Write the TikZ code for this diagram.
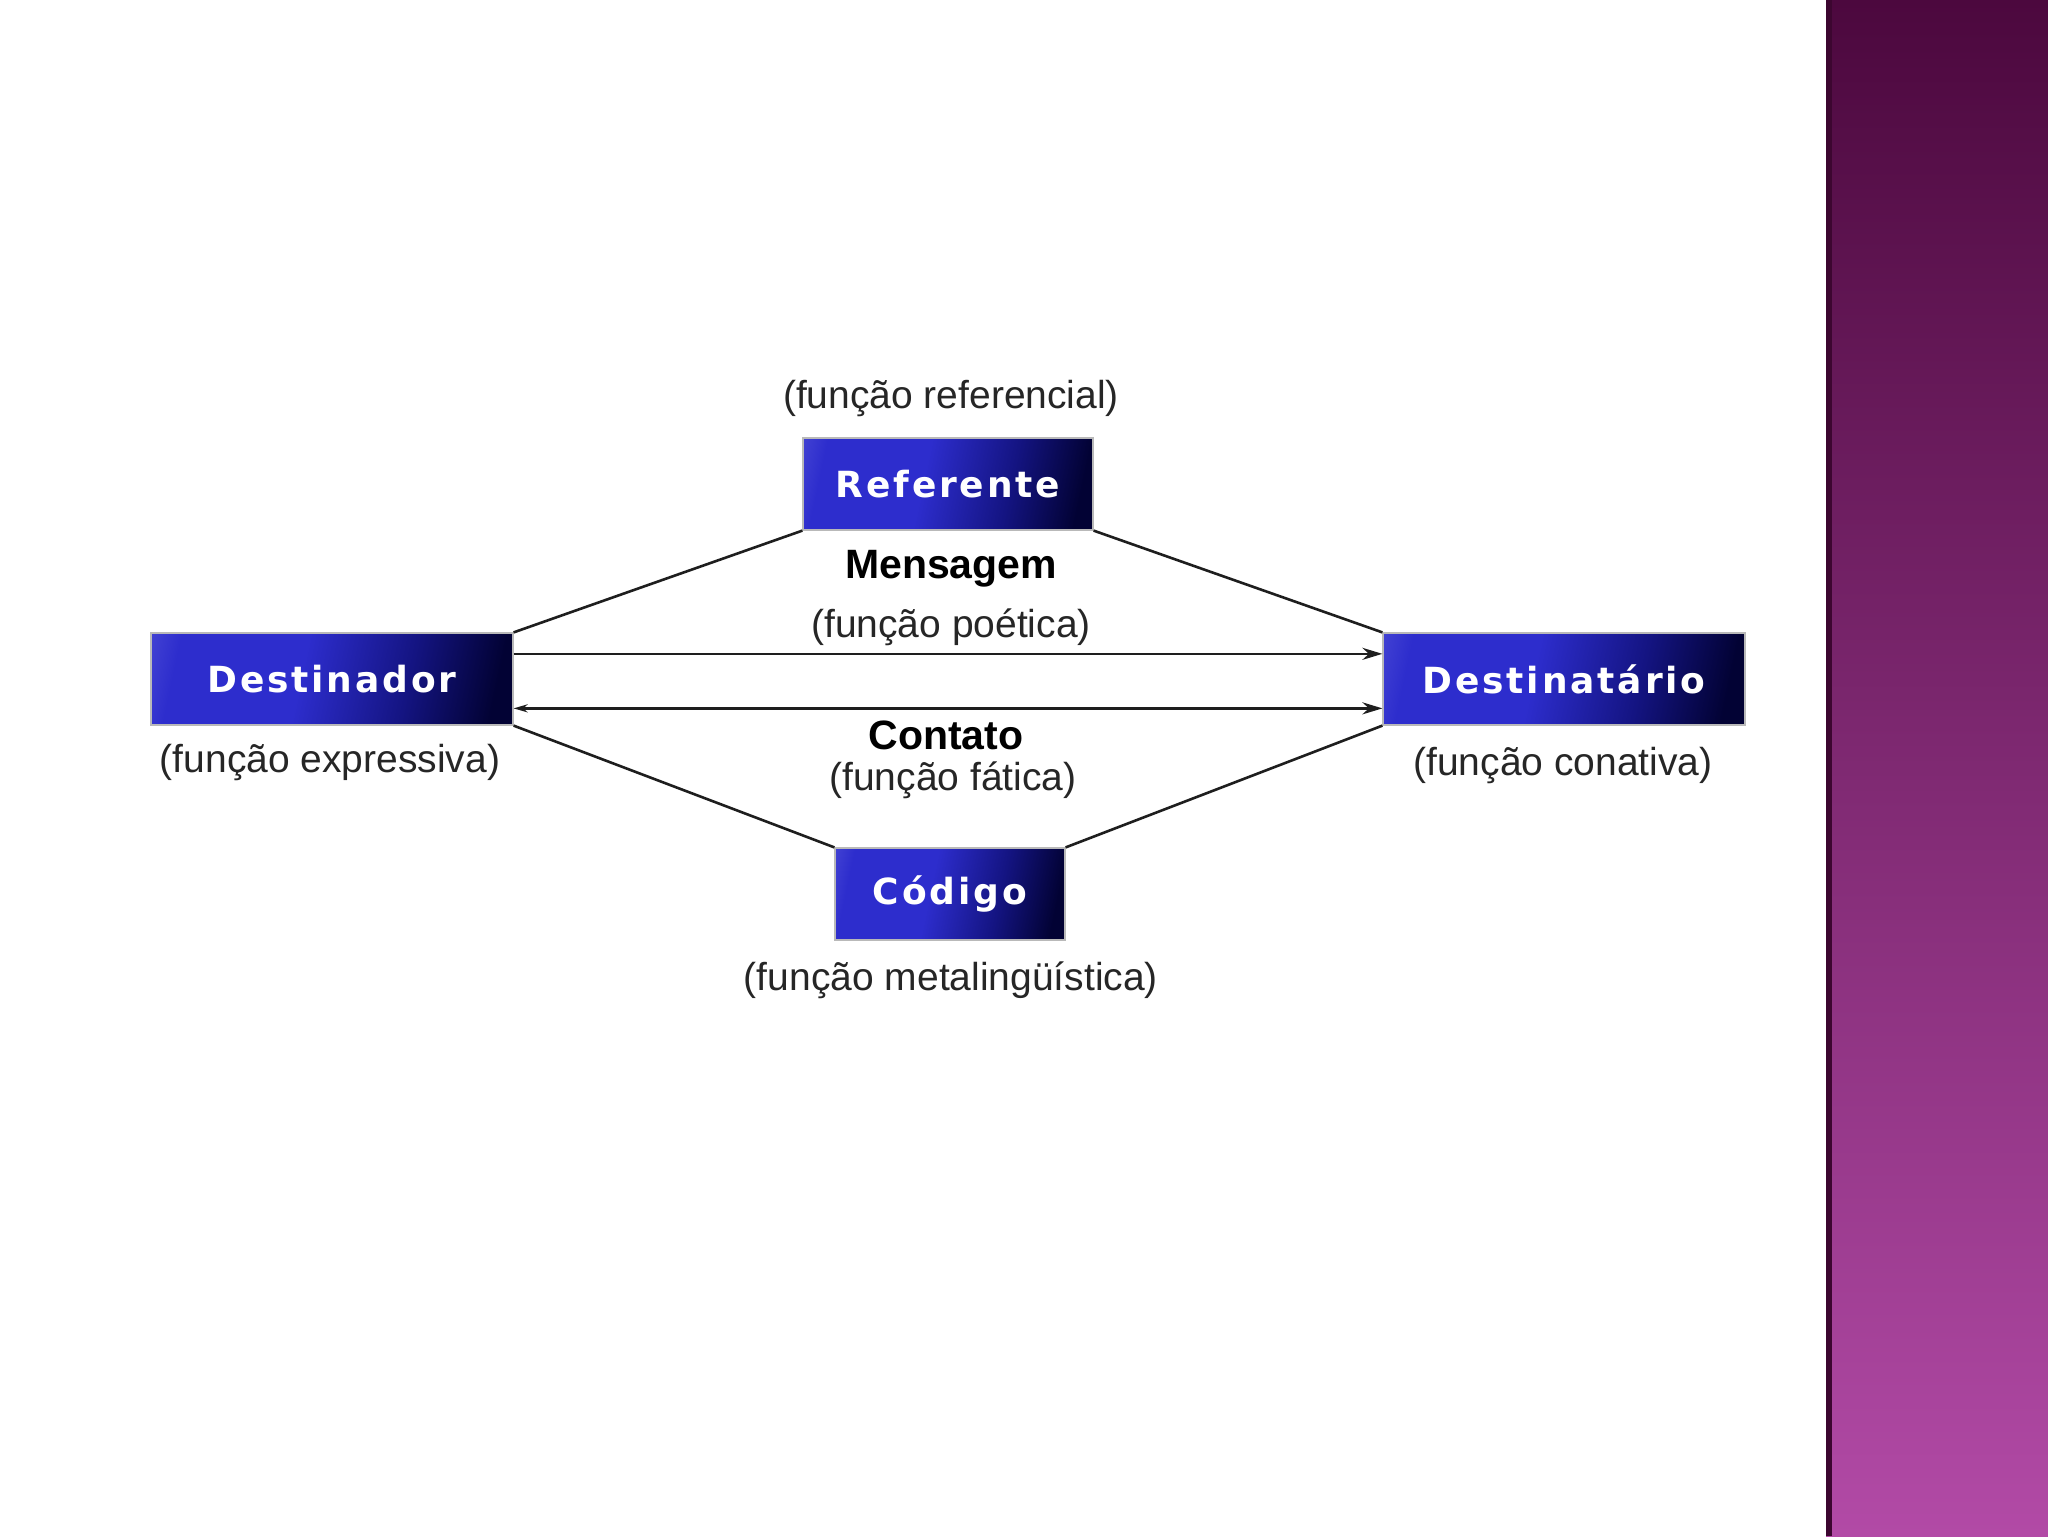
\documentclass[tikz,border=0pt]{standalone}
\usepackage{fontspec}
\setmainfont{Liberation Sans}
\newfontfamily\boxfont[LetterSpace=8]{DejaVu Sans}
\usetikzlibrary{arrows.meta,calc}
\definecolor{boxlight}{RGB}{150,150,235}
\definecolor{boxblue}{RGB}{45,45,205}
\definecolor{boxmid}{RGB}{20,20,130}
\definecolor{boxnavy}{RGB}{2,2,52}
\definecolor{panTop}{RGB}{76,8,62}
\definecolor{panBot}{RGB}{178,74,166}
\definecolor{panEdge}{RGB}{60,6,48}
\definecolor{linecol}{RGB}{30,30,30}
\pgfdeclarehorizontalshading{boxsh}{100bp}{color(0bp)=(boxlight); color(25bp)=(boxblue); color(45bp)=(boxblue); color(62bp)=(boxmid); color(76bp)=(boxnavy); color(100bp)=(boxnavy)}
\tikzset{
  funcbox/.style={rectangle, inner sep=0pt, minimum height=46pt, shading=boxsh, shading angle=-12,
    draw=gray!55, line width=0.6pt, text=white, font=\boxfont\bfseries\fontsize{18}{20}\selectfont},
  flabel/.style={inner sep=0pt, font=\fontsize{19.5}{21}\selectfont, text=black!85},
  blabel/.style={inner sep=0pt, font=\bfseries\fontsize{20.5}{22}\selectfont, text=black},
  conn/.style={draw=linecol, line width=1.3pt},
  tip/.style={-{Stealth[length=10pt,width=6pt]}}
}
\begin{document}
\begin{tikzpicture}[x=0.5pt,y=-0.5pt]
\useasboundingbox (0,0) rectangle (2048,1536);
\fill[white] (0,0) rectangle (2048,1536);
\shade[top color=panTop, bottom color=panBot] (1826,0) rectangle (2048,1536);
\fill[panEdge] (1826,0) rectangle (1832,1536);

\node[funcbox, minimum width=181pt] (dest) at (332,679) {Destinador};
\node[funcbox, minimum width=145pt] (ref) at (948,484) {Referente};
\node[funcbox, minimum width=181pt] (desti) at (1564,679) {Destinatário};
\node[funcbox, minimum width=115pt] (cod) at (950,894) {Código};

\draw[conn] (ref.south west) -- (dest.north east);
\draw[conn] (ref.south east) -- (desti.north west);
\draw[conn] (cod.north west) -- (dest.south east);
\draw[conn] (cod.north east) -- (desti.south west);

\coordinate (mA) at ($(dest.north east)!0.23!(dest.south east)$);
\coordinate (mB) at ($(desti.north west)!0.23!(desti.south west)$);
\coordinate (cA) at ($(dest.north east)!0.815!(dest.south east)$);
\coordinate (cB) at ($(desti.north west)!0.815!(desti.south west)$);
\draw[conn, tip] (mA) -- (mB);
\draw[conn, {Stealth[length=10pt,width=6pt]}-{Stealth[length=7pt,width=4pt]}] (cB) -- (cA);

\node[flabel] (lref) at (951,398) {(função referencial)};
\node[blabel] (lmen) at (951,569) {Mensagem};
\node[flabel] (lpoe) at (951,627) {(função poética)};
\node[blabel] (lcon) at (946,735) {Contato};
\node[flabel] (lfat) at (953,780) {(função fática)};
\node[flabel] (lexp) at (330,762) {(função expressiva)};
\node[flabel] (lcona) at (1563,765) {(função conativa)};
\node[flabel] (lmet) at (951,980) {(função metalingüística)};
\end{tikzpicture}
\end{document}
